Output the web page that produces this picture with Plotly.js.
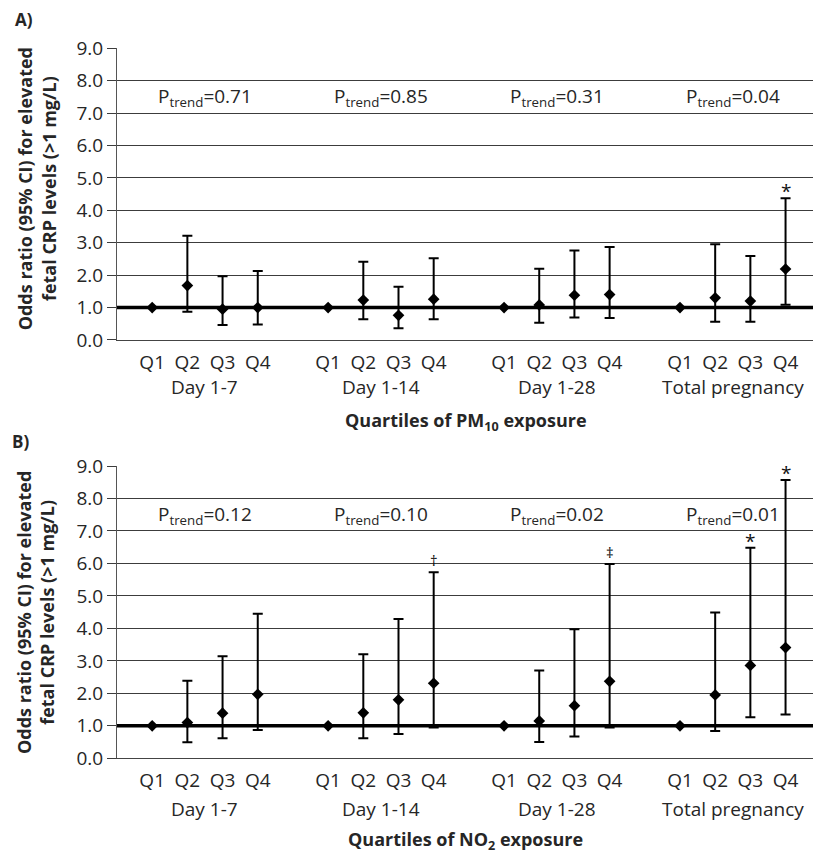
<!DOCTYPE html>
<html>
<head>
<meta charset="utf-8">
<script src="https://cdn.plot.ly/plotly-3.0.1.min.js"></script>
<style>
html,body{margin:0;padding:0;background:#fff;}
#chart{width:813px;height:857px;}
</style>
</head>
<body>
<div id="chart"></div>
<script>
// ---------- data ----------
const quartiles = ['Q1', 'Q2', 'Q3', 'Q4'];
const periods = ['Day 1-7', 'Day 1-14', 'Day 1-28', 'Total pregnancy'];

// Panel A: PM10
const pmOR    = [[1.00, 1.68, 0.95, 1.00], [1.00, 1.23, 0.76, 1.26], [1.00, 1.08, 1.38, 1.40], [1.00, 1.30, 1.20, 2.19]];
const pmLower = [[null, 0.87, 0.46, 0.48], [null, 0.64, 0.36, 0.64], [null, 0.53, 0.69, 0.68], [null, 0.56, 0.56, 1.09]];
const pmUpper = [[null, 3.22, 1.97, 2.13], [null, 2.41, 1.64, 2.52], [null, 2.20, 2.76, 2.87], [null, 2.95, 2.59, 4.37]];
const pmTrend = ['0.71', '0.85', '0.31', '0.04'];
const pmSig   = [['', '', '', ''], ['', '', '', ''], ['', '', '', ''], ['', '', '', '*']];

// Panel B: NO2
const no2OR    = [[1.00, 1.10, 1.39, 1.97], [1.00, 1.40, 1.80, 2.31], [1.00, 1.15, 1.62, 2.37], [1.00, 1.95, 2.86, 3.41]];
const no2Lower = [[null, 0.49, 0.62, 0.87], [null, 0.62, 0.75, 0.95], [null, 0.50, 0.67, 0.95], [null, 0.84, 1.26, 1.35]];
const no2Upper = [[null, 2.39, 3.14, 4.45], [null, 3.20, 4.29, 5.73], [null, 2.70, 3.97, 5.98], [null, 4.49, 6.48, 8.57]];
const no2Trend = ['0.12', '0.10', '0.02', '0.01'];
const no2Sig   = [['', '', '', ''], ['', '', '', '†'], ['', '', '', '‡'], ['', '', '*', '*']];

const yTicks = [0, 1, 2, 3, 4, 5, 6, 7, 8, 9];
const refOR = 1;

// ---------- build ----------
const FONT = 'Open Sans, sans-serif';
const TXT = '#262626';
const GAP = 1; // empty category slot between periods

function slot(g, q) { return g * (quartiles.length + GAP) + q; }

const tickVals = [], tickText = [];
periods.forEach((p, g) => quartiles.forEach((q, i) => { tickVals.push(slot(g, i)); tickText.push(q); }));

const xRange = [-1, 18.78];

function refTrace(xa, ya) {
  return {
    type: 'scatter', mode: 'lines', x: xRange, y: [refOR, refOR], xaxis: xa, yaxis: ya,
    line: { color: '#000', width: 3.5 }, hoverinfo: 'skip', showlegend: false
  };
}

function makeTrace(or, lo, up, xa, ya) {
  const x = [], y = [], ep = [], em = [];
  or.forEach((row, g) => row.forEach((v, i) => {
    x.push(slot(g, i)); y.push(v);
    ep.push(up[g][i] == null ? NaN : up[g][i] - v);
    em.push(lo[g][i] == null ? NaN : v - lo[g][i]);
  }));
  return {
    type: 'scatter', mode: 'markers', x, y, xaxis: xa, yaxis: ya,
    marker: { symbol: 'diamond', size: 9, color: '#000' },
    error_y: { type: 'data', symmetric: false, array: ep, arrayminus: em, color: '#000', thickness: 2, width: 5 },
    hoverinfo: 'skip', showlegend: false, cliponaxis: false
  };
}

const traces = [
  refTrace('x', 'y'),
  makeTrace(pmOR, pmLower, pmUpper, 'x', 'y'),
  refTrace('x2', 'y2'),
  makeTrace(no2OR, no2Lower, no2Upper, 'x2', 'y2')
];

function xaxis(anchor) {
  return {
    anchor, domain: [0, 1], range: xRange, tickvals: tickVals, ticktext: tickText,
    showgrid: false, zeroline: false, showline: true, linecolor: '#444', linewidth: 1,
    ticks: 'outside', ticklen: 5, tickcolor: 'rgba(0,0,0,0)',
    tickfont: { family: FONT, size: 19, color: TXT }, fixedrange: true
  };
}
function yaxis(anchor, domain) {
  return {
    anchor, domain, range: [0, 9], tickvals: yTicks, tickformat: '.1f',
    showgrid: true, gridcolor: '#3c3c3c', gridwidth: 1, zeroline: false,
    showline: true, linecolor: '#555', linewidth: 1,
    ticks: 'outside', ticklen: 9, tickcolor: '#3c3c3c', tickwidth: 1,
    tickfont: { family: FONT, size: 19, color: TXT }, fixedrange: true
  };
}

const annotations = [];
function panelAnnots(xa, ya, trend, sig, up, label, labelPos, ytitlePos, xTitle, xTitleY, dayY) {
  periods.forEach((p, g) => {
    const cx = (slot(g, 0) + slot(g, quartiles.length - 1)) / 2;
    annotations.push({ xref: xa, yref: ya, x: cx, y: 7.5, text: 'P<sub>trend</sub>=' + trend[g],
      showarrow: false, font: { family: FONT, size: 19, color: TXT }, xanchor: 'center', yanchor: 'middle' });
    annotations.push({ xref: xa, yref: 'paper', x: cx, y: dayY, text: p,
      showarrow: false, font: { family: FONT, size: 19, color: TXT }, xanchor: 'center', yanchor: 'middle' });
    sig[g].forEach((m, i) => {
      if (!m) return;
      const star = m === '*';
      annotations.push({ xref: xa, yref: ya, x: slot(g, i), y: up[g][i], text: m, showarrow: false,
        font: { family: FONT, size: star ? 19 : 15, color: '#111' }, xanchor: 'center', yanchor: 'bottom',
        yshift: star ? -8 : 0 });
    });
  });
  annotations.push({ xref: 'paper', yref: 'paper', x: labelPos[0], y: labelPos[1], text: '<b>' + label + '</b>',
    showarrow: false, font: { family: FONT, size: 17, color: TXT }, xanchor: 'center', yanchor: 'middle' });
  annotations.push({ xref: 'paper', yref: 'paper', x: ytitlePos[0], y: ytitlePos[1], textangle: -90,
    text: '<b>Odds ratio (95% CI) for elevated<br>fetal CRP levels (>1 mg/L)</b>',
    showarrow: false, font: { family: FONT, size: 18, color: TXT }, xanchor: 'center', yanchor: 'middle' });
  annotations.push({ xref: 'paper', yref: 'paper', x: 0.501, y: xTitleY, text: xTitle,
    showarrow: false, font: { family: FONT, size: 18, color: TXT }, xanchor: 'center', yanchor: 'middle' });
}

const domA = [0.6033, 0.9436], domB = [0.1152, 0.4562];
panelAnnots('x', 'y', pmTrend, pmSig, pmUpper, 'A)', [-0.1343, 0.9778], [-0.1144, 0.7795],
  '<b>Quartiles of PM<sub>10</sub> exposure</b>', 0.5076, 0.5485);
panelAnnots('x2', 'y2', no2Trend, no2Sig, no2Upper, 'B)', [-0.1387, 0.4848], [-0.1170, 0.2853],
  '<b>Quartiles of NO<sub>2</sub> exposure</b>', 0.0198, 0.0555);

const layout = {
  width: 813, height: 857,
  margin: { l: 117, r: 0, t: 0, b: 0 },
  paper_bgcolor: '#fff', plot_bgcolor: '#fff',
  xaxis: xaxis('y'), yaxis: yaxis('x', domA),
  xaxis2: xaxis('y2'), yaxis2: yaxis('x2', domB),
  annotations, showlegend: false
};

Plotly.newPlot('chart', traces, layout, { staticPlot: true, displayModeBar: false });
</script>
</body>
</html>
